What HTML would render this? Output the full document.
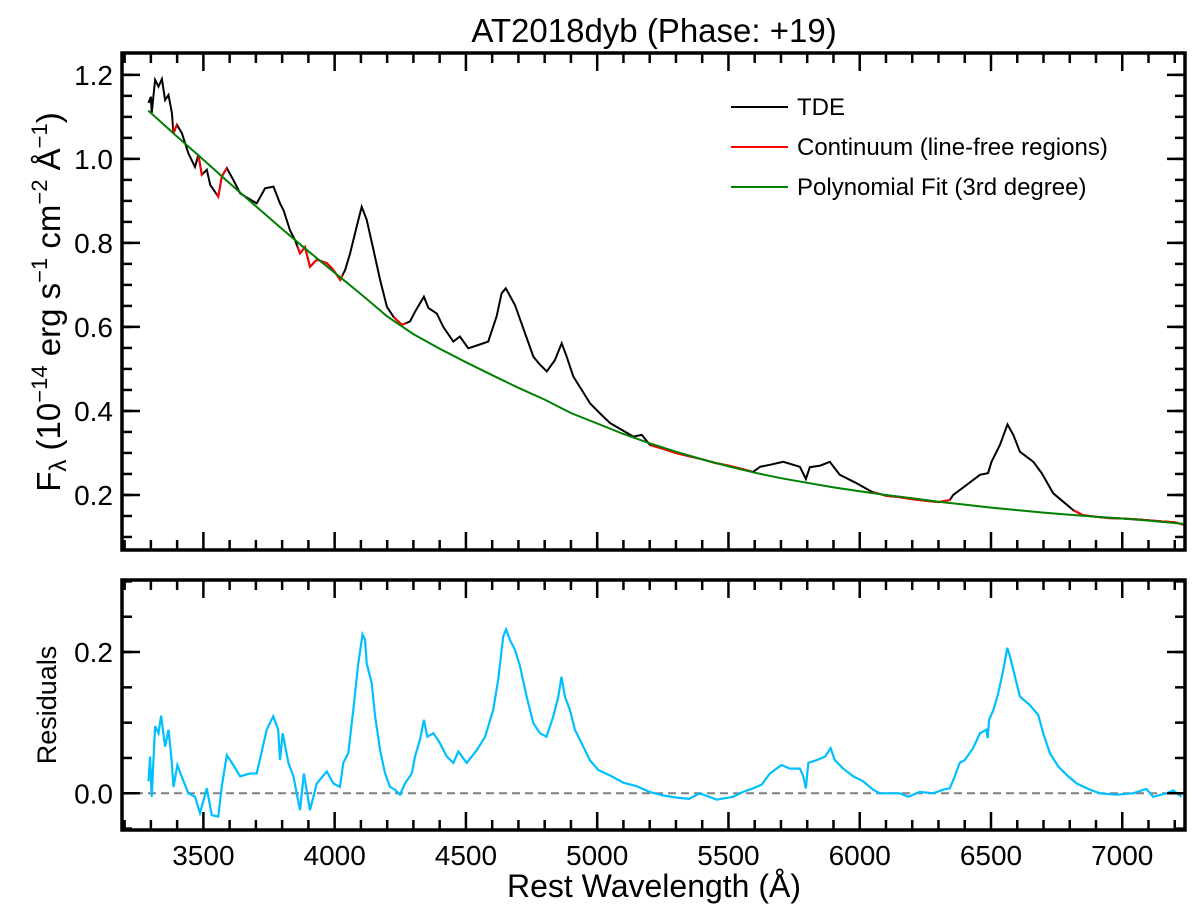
<!DOCTYPE html>
<html><head><meta charset="utf-8">
<style>
html,body{margin:0;padding:0;background:#fff;}
svg{display:block;font-family:"Liberation Sans",Arial,sans-serif;}
</style></head>
<body>
<svg id="chart" width="1200" height="921" viewBox="0 0 1200 921" xmlns="http://www.w3.org/2000/svg">
<text x="654" y="42" font-size="33" text-anchor="middle">AT2018dyb (Phase: +19)</text>
<text transform="translate(60,302) rotate(-90)" font-size="33" text-anchor="middle">F<tspan font-size="24" dy="6">λ</tspan><tspan dy="-6"> (10</tspan><tspan font-size="22" dy="-13">−14</tspan><tspan dy="13"> erg s</tspan><tspan font-size="22" dy="-13">−1</tspan><tspan dy="13"> cm</tspan><tspan font-size="22" dy="-13">−2</tspan><tspan dy="13"> Å</tspan><tspan font-size="22" dy="-13">−1</tspan><tspan dy="13">)</tspan></text>
<text transform="translate(56,705) rotate(-90)" font-size="27" text-anchor="middle">Residuals</text>
<text x="654" y="897" font-size="32" text-anchor="middle">Rest Wavelength (Å)</text>
<g id="top"></g>
<g id="bot"></g>
<g>
<g><line x1="731" y1="107" x2="788" y2="107" stroke="#000" stroke-width="2"/><text x="797" y="115" font-size="24">TDE</text></g>
<g><line x1="731" y1="147" x2="788" y2="147" stroke="#f00" stroke-width="2"/><text x="797" y="155" font-size="24">Continuum (line-free regions)</text></g>
<g><line x1="731" y1="187" x2="788" y2="187" stroke="#008000" stroke-width="2"/><text x="797" y="195" font-size="24">Polynomial Fit (3rd degree)</text></g>
</g>
</svg>
<script>
const fluxWave = [3291,3300,3303,3316,3329,3342,3354,3367,3380,3386,3399,3418,3443,3468,3481,3494,3513,3526,3557,3570,3589,3614,3640,3671,3703,3735,3767,3792,3805,3830,3849,3868,3887,3906,3932,3970,3995,4021,4040,4059,4084,4103,4122,4148,4173,4199,4224,4256,4287,4306,4340,4357,4389,4414,4452,4477,4509,4547,4585,4617,4636,4652,4687,4725,4757,4782,4808,4839,4865,4884,4909,4941,4973,5011,5049,5093,5138,5170,5201,5250,5300,5350,5400,5450,5500,5550,5594,5620,5660,5709,5772,5795,5810,5850,5886,5924,5988,6045,6100,6150,6200,6250,6300,6343,6356,6407,6458,6489,6502,6534,6563,6585,6610,6661,6693,6737,6775,6813,6850,6900,6950,7000,7050,7100,7150,7200,7240];
const fluxValues = [1.133,1.148,1.109,1.188,1.172,1.19,1.14,1.152,1.109,1.061,1.081,1.061,1.013,0.981,1.01,0.962,0.974,0.938,0.91,0.958,0.978,0.95,0.918,0.906,0.894,0.93,0.934,0.894,0.878,0.83,0.807,0.775,0.79,0.743,0.76,0.752,0.736,0.712,0.736,0.775,0.839,0.886,0.855,0.783,0.712,0.648,0.624,0.605,0.613,0.636,0.672,0.645,0.632,0.60,0.565,0.577,0.549,0.557,0.565,0.625,0.68,0.692,0.652,0.585,0.529,0.51,0.494,0.521,0.561,0.529,0.482,0.45,0.418,0.394,0.371,0.355,0.339,0.343,0.319,0.31,0.30,0.292,0.285,0.276,0.27,0.262,0.255,0.267,0.272,0.279,0.267,0.238,0.266,0.27,0.279,0.248,0.228,0.208,0.198,0.195,0.19,0.186,0.183,0.188,0.2,0.224,0.248,0.252,0.279,0.319,0.368,0.343,0.303,0.279,0.252,0.204,0.184,0.164,0.152,0.148,0.145,0.144,0.142,0.14,0.137,0.135,0.128];
const contWave = [3290,3400,3500,3600,3700,3800,3900,4000,4100,4200,4300,4400,4500,4600,4700,4800,4900,5000,5100,5200,5300,5400,5500,5600,5700,5800,5900,6000,6100,6200,6300,6400,6500,6600,6700,6800,6900,7000,7100,7240];
const contValues = [1.115,1.053,0.998,0.942,0.887,0.833,0.780,0.729,0.678,0.625,0.583,0.548,0.516,0.485,0.455,0.427,0.395,0.370,0.345,0.323,0.303,0.285,0.268,0.253,0.240,0.229,0.218,0.209,0.200,0.192,0.184,0.177,0.170,0.164,0.158,0.153,0.148,0.144,0.139,0.131];
const redRanges = [[3385,3400],[3478,3500],[3550,3590],[3858,4030],[4225,4272],[5200,5580],[6050,6345],[6815,7245]];
const resWave = [3291,3297,3303,3316,3329,3339,3354,3367,3379,3386,3401,3417,3443,3468,3487,3513,3532,3557,3570,3589,3614,3640,3678,3703,3722,3741,3766,3785,3792,3802,3824,3843,3868,3883,3906,3932,3970,3995,4020,4033,4052,4071,4090,4106,4116,4122,4141,4154,4173,4192,4211,4230,4249,4268,4294,4306,4325,4340,4353,4376,4401,4427,4452,4471,4503,4541,4573,4604,4623,4642,4653,4668,4687,4706,4731,4757,4782,4807,4833,4852,4864,4877,4896,4915,4947,4972,5004,5050,5100,5150,5200,5250,5300,5350,5391,5455,5518,5556,5594,5626,5658,5702,5734,5772,5785,5795,5804,5836,5868,5889,5905,5937,5975,6013,6051,6077,6153,6185,6229,6280,6318,6343,6362,6381,6400,6432,6458,6483,6487,6493,6509,6528,6547,6562,6572,6585,6610,6648,6680,6699,6724,6756,6788,6826,6877,6915,6978,7041,7092,7118,7168,7194,7226];
const resValues = [0.017,0.052,-0.005,0.095,0.085,0.11,0.066,0.09,0.047,0.009,0.04,0.024,0,-0.005,-0.028,0.007,-0.031,-0.033,0.01,0.054,0.04,0.024,0.028,0.028,0.059,0.09,0.109,0.09,0.047,0.085,0.043,0.024,-0.024,0.028,-0.024,0.014,0.031,0.014,0.009,0.043,0.057,0.118,0.184,0.225,0.217,0.184,0.156,0.109,0.061,0.028,0.009,0.005,-0.002,0.014,0.028,0.052,0.076,0.104,0.08,0.085,0.071,0.052,0.043,0.059,0.043,0.061,0.08,0.118,0.161,0.222,0.232,0.217,0.203,0.18,0.137,0.099,0.085,0.08,0.109,0.137,0.165,0.137,0.118,0.09,0.066,0.047,0.033,0.025,0.015,0.01,0.002,-0.003,-0.006,-0.008,0,-0.009,-0.005,0.002,0.007,0.012,0.028,0.04,0.035,0.035,0.024,0.007,0.043,0.047,0.052,0.064,0.047,0.035,0.024,0.017,0.005,0,0,-0.005,0.002,0,0.005,0.007,0.024,0.043,0.047,0.064,0.085,0.09,0.078,0.104,0.118,0.142,0.175,0.206,0.194,0.175,0.137,0.125,0.111,0.085,0.057,0.038,0.026,0.014,0.005,0,-0.002,0,0.006,-0.005,0,0.004,-0.005];
const xTicks = [3500,4000,4500,5000,5500,6000,6500,7000];
const topYTicks = [0.2,0.4,0.6,0.8,1.0,1.2];
const botYTicks = [0.0,0.2];

const NS='http://www.w3.org/2000/svg';
const X0=122,X1=1185,W0=3190,W1=7239;
const xs=w=>X0+(w-W0)/(W1-W0)*(X1-X0);
const T={top:53,bot:550,v0:1.252,v1:0.069};
const B={top:580,bot:830,v0:0.302,v1:-0.052};
const ys=(P,v)=>P.top+(P.v0-v)/(P.v0-P.v1)*(P.bot-P.top);
function mk(tag,attrs,parent){const e=document.createElementNS(NS,tag);for(const k in attrs)e.setAttribute(k,attrs[k]);parent.appendChild(e);return e;}
function pathD(wv,vals,P){return wv.map((w,i)=>(i?'L':'M')+xs(w).toFixed(1)+','+ys(P,vals[i]).toFixed(1)).join('');}
const svg=document.getElementById('chart');
const defs=mk('defs',{},svg);
['cpTop','cpBot'].forEach((id,k)=>{const P=k?B:T;const c=mk('clipPath',{id:id},defs);mk('rect',{x:X0,y:P.top,width:X1-X0,height:P.bot-P.top},c);});
const cr=mk('clipPath',{id:'cpRed'},defs);
redRanges.forEach(r=>{mk('rect',{x:xs(r[0]),y:T.top,width:xs(r[1])-xs(r[0]),height:T.bot-T.top},cr);});

function axes(g,P,yTicks,yMinor,labels){
  const fr=mk('rect',{x:X0,y:P.top,width:X1-X0,height:P.bot-P.top,fill:'none',stroke:'#000','stroke-width':3.5},g);
  
  
  for(let w=3200;w<=7200;w+=100){
    const major=w%500===0,L=major?18:10,x=xs(w);
    mk('line',{x1:x,y1:P.bot,x2:x,y2:P.bot-L,stroke:'#000','stroke-width':2.5},g);
    mk('line',{x1:x,y1:P.top,x2:x,y2:P.top+L,stroke:'#000','stroke-width':2.5},g);
  }
  yMinor.forEach(v=>{const y=ys(P,v);
    mk('line',{x1:X0,y1:y,x2:X0+10,y2:y,stroke:'#000','stroke-width':2.5},g);
    mk('line',{x1:X1,y1:y,x2:X1-10,y2:y,stroke:'#000','stroke-width':2.5},g);});
  yTicks.forEach(v=>{const y=ys(P,v);
    mk('line',{x1:X0,y1:y,x2:X0+18,y2:y,stroke:'#000','stroke-width':2.5},g);
    mk('line',{x1:X1,y1:y,x2:X1-18,y2:y,stroke:'#000','stroke-width':2.5},g);
    const t=mk('text',{x:X0-9,y:y+10,'font-size':28,'text-anchor':'end'},g);t.textContent=v.toFixed(1);
    
    });
  if(labels){xTicks.forEach(w=>{const t=mk('text',{x:xs(w),y:P.bot+35,'font-size':28,'text-anchor':'middle'},g);t.textContent=w;
    
    });}
}
const gt=document.getElementById('top'),gb=document.getElementById('bot');
const topMinor=[];for(let v=0.1;v<=1.25;v+=0.05)topMinor.push(v);
const botMinor=[];for(let v=-0.05;v<=0.3;v+=0.05)botMinor.push(v);

const fl=mk('path',{d:pathD(fluxWave,fluxValues,T),fill:'none',stroke:'#000','stroke-width':2,'clip-path':'url(#cpTop)'},gt);


const rl=mk('path',{d:pathD(fluxWave,fluxValues,T),fill:'none',stroke:'#f00','stroke-width':2,'clip-path':'url(#cpRed)'},gt);


const pl=mk('path',{d:pathD(contWave,contValues,T),fill:'none',stroke:'#008000','stroke-width':2,'clip-path':'url(#cpTop)'},gt);


axes(gt,T,topYTicks,topMinor,false);

const zl=mk('line',{x1:X0,y1:ys(B,0),x2:X1,y2:ys(B,0),stroke:'#808080','stroke-width':2,'stroke-dasharray':'8,5'},gb);


const resl=mk('path',{d:pathD(resWave,resValues,B),fill:'none',stroke:'#00bfff','stroke-width':2.2,'clip-path':'url(#cpBot)'},gb);


axes(gb,B,botYTicks,botMinor,true);
</script>
</body></html>
